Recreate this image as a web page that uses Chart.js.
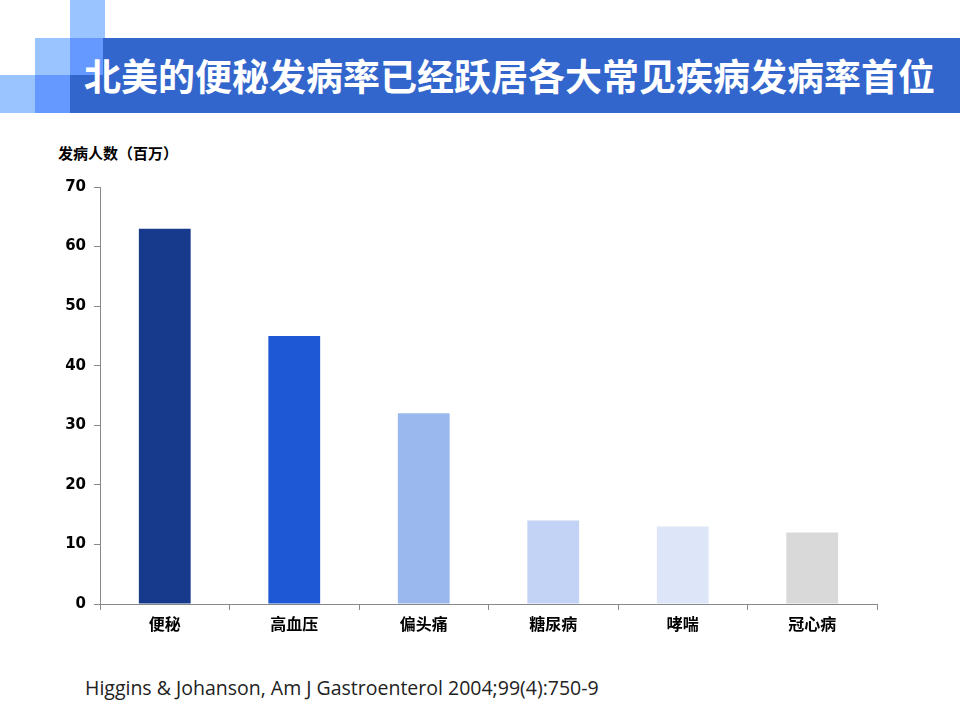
<!DOCTYPE html>
<html><head><meta charset="utf-8">
<script src="https://cdn.jsdelivr.net/npm/chart.js@4"></script>
<style>
body{margin:0;width:960px;height:720px;background:#fff;position:relative;overflow:hidden;font-family:"Noto Sans CJK SC",sans-serif}
.sq{position:absolute;width:35px;height:38px}
.l{background:#99c4ff}.m{background:#6699ff}
#banner{position:absolute;left:70px;top:38px;width:890px;height:75px;background:#3366cc}
#bannerTop{position:absolute;left:70px;top:38px;width:33px;height:37px;background:#6699ff}
#title{position:absolute;left:84px;top:38px;height:75px;line-height:75px;color:#fff;font-size:37px;font-weight:bold;white-space:nowrap}
#ylab{position:absolute;left:58px;top:142px;font-size:15px;font-weight:bold}
#src{position:absolute;left:85px;top:674px;font-family:"Open Sans",sans-serif;font-size:19.5px;color:#222}
#wrap{position:absolute;left:0;top:170px;width:960px;height:480px}
</style></head><body>
<div class="sq l" style="left:70px;top:0"></div>
<div id="banner"></div>
<div class="sq l" style="left:35px;top:38px"></div>
<div id="bannerTop"></div>
<div class="sq l" style="left:0;top:75px"></div>
<div class="sq m" style="left:35px;top:75px"></div>
<div id="title">北美的便秘发病率已经跃居各大常见疾病发病率首位</div>
<div id="ylab">发病人数（百万）</div>
<div id="src">Higgins &amp; Johanson, Am J Gastroenterol 2004;99(4):750-9</div>
<div id="wrap"><canvas id="c" width="960" height="480"></canvas></div>
<script>
const categories = ['便秘', '高血压', '偏头痛', '糖尿病', '哮喘', '冠心病'];
const values = [63, 45, 32, 14, 13, 12];
const barColors = ['#173a8c', '#1f58d4', '#9ab8ee', '#c2d3f5', '#dde6f8', '#d9d9d9'];

new Chart(document.getElementById('c'), {
  type: 'bar',
  data: {
    labels: categories,
    datasets: [{ data: values, backgroundColor: barColors, barPercentage: 0.4, categoryPercentage: 1 }]
  },
  options: {
    responsive: false,
    animation: false,
    layout: { padding: { left: 0, right: 83, top: 16, bottom: 0 } },
    plugins: { legend: { display: false }, tooltip: { enabled: false } },
    scales: {
      x: {
        afterFit: s => { s.height = 46; },
        grid: { offset: true, drawOnChartArea: false, tickLength: 6, color: '#888' },
        border: { color: '#888' },
        ticks: { color: '#000', font: { family: 'Noto Sans CJK SC', size: 16, weight: 'bold' }, padding: 4 }
      },
      y: {
        min: 0, max: 70,
        afterFit: s => { s.width = 100; },
        grid: { drawOnChartArea: false, tickLength: 6, color: '#888' },
        border: { color: '#888' },
        ticks: { stepSize: 10, color: '#000', font: { family: 'DejaVu Sans', size: 15, weight: 'bold' }, padding: 8 }
      }
    }
  }
});
</script>
</body></html>
